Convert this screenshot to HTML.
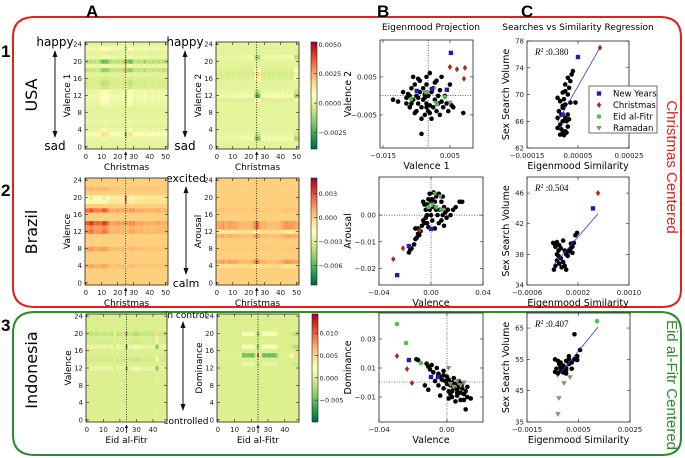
<!DOCTYPE html>
<html><head><meta charset="utf-8"><style>
html,body{margin:0;padding:0;background:#fff;}
svg{display:block;font-family:"DejaVu Sans","Liberation Sans",sans-serif;}
</style></head><body>
<svg id="fig" width="685" height="458" viewBox="0 0 685 458" xmlns="http://www.w3.org/2000/svg">
<defs>
<linearGradient id="cmap" x1="0" y1="1" x2="0" y2="0">
<stop offset="0" stop-color="#006837"/><stop offset="0.1" stop-color="#1a9850"/><stop offset="0.2" stop-color="#66bd63"/><stop offset="0.3" stop-color="#a6d96a"/><stop offset="0.4" stop-color="#d9ef8b"/><stop offset="0.5" stop-color="#ffffbf"/><stop offset="0.6" stop-color="#fee08b"/><stop offset="0.7" stop-color="#fdae61"/><stop offset="0.8" stop-color="#f46d43"/><stop offset="0.9" stop-color="#d73027"/><stop offset="1" stop-color="#a50026"/>
</linearGradient>
</defs>
<path d="M13,37 Q13,17 35,17 L660,17 Q681,17 681,37 L681,290 Q681,307 662,307 L35,307 Q13,307 13,287 Z" fill="none" stroke="#e0201b" stroke-width="2"/>
<path d="M13,333 Q13,312 35,312 L660,312 Q681,312 681,332 L681,438 Q681,455 662,455 L35,455 Q13,455 13,435 Z" fill="none" stroke="#2e8b2e" stroke-width="2"/>
<g font-weight="bold" font-size="17" font-family="Liberation Sans, sans-serif">
<text x="86" y="17">A</text>
<text x="377" y="17">B</text>
<text x="521" y="17">C</text>
<text x="1" y="57">1</text>
<text x="1" y="196">2</text>
<text x="1" y="331">3</text>
</g>
<g font-size="16">
<text transform="translate(37,95) rotate(-90)" text-anchor="middle">USA</text>
<text transform="translate(37,232) rotate(-90)" text-anchor="middle">Brazil</text>
<text transform="translate(37,370) rotate(-90)" text-anchor="middle">Indonesia</text>
</g>
<g font-size="15" font-family="Liberation Sans, sans-serif">
<text transform="translate(667,167) rotate(90)" text-anchor="middle" fill="#e0201b">Christmas Centered</text>
<text transform="translate(667,385) rotate(90)" text-anchor="middle" fill="#2e8b2e">Eid al-Fitr Centered</text>
</g>
<g font-size="9" text-anchor="middle">
<text x="431" y="30">Eigenmood Projection</text>
<text x="578" y="30">Searches vs Similarity Regression</text>
</g>
<g id="g-arrows" font-size="12"></g>
<g id="g-plots"></g>
</svg>
<script>
// ---------- heatmap data (row profiles x column profiles) ----------
const h1Rows=[0,0,0.0002,0.0012,0.0003,0,0.0002,0,0,0,0.0003,0.0005,0.0006,0.0004,-0.0004,-0.0006,-0.0003,0,-0.0012,0.0003,-0.0016,0.0003,0,0.0006,0];
const h1Cols=[0.5,0.6,0.4,0.6,0.5,0.4,0.5,0.3,0.5,0.6,1.2,1.3,1.2,1.2,1.1,0.6,0.6,0.5,0.4,0.5,0.6,0.5,0.4,0.6,0.8,-2.5,0.8,1.2,1.3,1.1,0.5,0.4,0.5,0.6,0.5,0.4,0.6,0.9,0.5,0.4,0.5,0.4,0.6,0.5,0.4,0.5,0.6,0.4,0.5,0.6,0.5,0.5];
const h2Rows=[0,0,0.0008,0.0003,0,0,0,0,0,0,0,-0.0003,0.001,0.0003,0,0,-0.0004,-0.0008,-0.0004,0,0,0.0006,0,0,0];
const h2Cols=[0.3,0.2,0.3,0.4,0.3,0.2,0.3,0.4,0.3,0.3,0.4,0.3,0.2,0.4,0.3,0.5,0.3,0.4,0.3,0.4,0.5,0.3,0.4,0.6,-1.5,-2.5,-2.5,-1.5,0.5,0.4,0.6,0.3,0.4,0.6,0.3,0.4,0.6,0.3,0.4,0.5,0.3,0.6,0.4,0.3,0.5,0.3,0.4,0.5,0.3,-1.5,-1.5,-1.2];
const h3Rows=[0,0,0,0,0.0008,0,0,0,0.001,0,0,0,0.0015,0.0012,0.0025,0,0,0.002,0,-0.0015,-0.002,0,0.0005,0,0];
const h3Cols=[1.0,1.0,1.1,1.4,1.4,1.0,0.9,1.0,1.0,0.9,1.0,1.4,1.4,1.0,0.9,0.5,0.4,0.5,0.4,0.5,0.6,0.5,0.4,0.5,0.6,-2.0,0.6,0.5,0.8,0.5,0.8,0.4,0.5,0.4,0.4,0.5,0.35,0.3,0.35,0.4,0.35,0.3,0.4,0.35,0.4,0.35,0.5,0.35,0.3,0.4,0.35,0.3];
const h4Rows=[0,0,0,0,-0.0005,0.0012,0,0,0.0002,0,0,0.0008,-0.0008,0.0012,0.0012,0,0,0.0003,0,0,0,0,0,0,0];
const h4Cols=[0.8,0.8,1.0,0.8,1.2,0.8,0.7,0.8,1.2,0.8,0.7,1.0,0.8,0.7,0.5,0.4,0.5,0.4,0.5,0.5,0.4,0.5,0.6,0.8,1.5,2.5,1.5,0.8,0.6,0.5,0.8,0.5,0.4,0.5,0.4,0.3,0.4,0.3,0.4,0.5,0.6,0.8,1.0,1.2,1.2,1.1,1.0,1.2,1.0,0.9,0.8,0.8];
const h5Rows=[0,0,0.0005,0,0,0,0,0,0,0.0005,0,0,-0.003,0,0.002,0,0,-0.003,0.001,0.0005,0.004,0,0,0,0];
const h5Cols=[-0.3,-0.2,-0.3,-0.4,-0.2,-0.3,-0.4,-0.2,-0.3,-0.2,-0.3,-0.4,-0.2,-0.3,-0.2,-0.4,-0.3,0.2,-0.3,-0.4,-0.2,-0.3,-0.2,-0.4,2.5,-0.3,-0.2,-0.3,-0.3,-0.5,-0.5,-0.5,-0.3,-0.2,-0.3,-0.2,-0.3,-0.2,-0.3,-0.2,-0.3,-0.2,1.2,1.2,-0.3,-0.2,-0.3,-0.4,-0.3];
const h6Rows=[0,0,0,0,0,0,0,0,0,0,0,0,0,-0.0008,0,0.005,0,-0.002,0,0,-0.002,0,0,0,0];
const h6Cols=[0.1,0,0.1,0,0.1,0,0.1,0,0.1,0,0,0.1,0,0.1,0,-1,-1,-0.8,-1,-0.8,-1,-1,-0.6,0.2,2.5,0.2,-0.2,-1,-1,-0.8,-1,-1,-0.9,-1,-1,-0.8,-0.2,0,0.1,0,0.1,0,0.1,0.2,0.3,0.5,1,1,1];

// ---------- scatter data (Eigenmood projection, column B) ----------
const b1BlackX=[-0.012,-0.0105,-0.009,-0.008,-0.0075,-0.007,-0.0065,-0.006,-0.0055,-0.005,-0.005,-0.0045,-0.004,-0.004,-0.0035,-0.003,-0.003,-0.0025,-0.0025,-0.002,-0.002,-0.0015,-0.0015,-0.001,-0.001,-0.0005,-0.0005,0.0,0.0,0.0005,0.001,0.001,0.0015,0.002,0.002,0.0025,0.003,0.0035,0.004,0.0045,0.005,0.006,-0.0035,0.009,0.0055,-0.006,-0.0045,-0.002,-0.0055,-0.0035,-0.001,0.0015,-0.007,-0.008,-0.0025,0.0005,-0.0045,-0.002,-0.0065,0.0025];
const b1BlackY=[-0.001,-0.0015,0.001,-0.002,0.0005,-0.003,0.002,-0.001,0.003,-0.004,0.0,-0.002,0.004,0.001,-0.003,-0.001,0.002,-0.005,0.0005,-0.002,0.003,-0.004,0.0,0.006,-0.0025,0.001,-0.006,-0.003,0.002,-0.001,0.004,-0.004,-0.002,0.0015,-0.005,0.005,-0.003,0.0,-0.002,-0.004,0.003,-0.003,-0.010,-0.0045,-0.0025,0.005,0.0045,0.005,-0.0045,-0.006,-0.0045,0.0,0.0,-0.0005,-0.0005,0.0035,-0.0005,-0.003,-0.002,-0.0015];
const b1NyX=[0.0053,-0.0049,-0.0004,0.0041], b1NyY=[0.0113,0.0013,0.0018,0.0016];
const b1XmX=[0.005,0.0071,0.0095,0.0092], b1XmY=[0.0076,0.007,0.0074,0.0045];
const b1EidX=[-0.0066,-0.0019,0.0035,0.0011], b1EidY=[-0.0008,0.001,-0.0003,-0.0022];
const b1RamX=[-0.0025,0.0002,0.005,0.0008], b1RamY=[0.001,0.0018,-0.0018,-0.0018];

const b2BlackX=[-0.017,-0.016,-0.015,-0.013,-0.012,-0.011,-0.010,-0.009,-0.008,-0.012,-0.010,-0.007,-0.006,-0.005,-0.004,-0.004,-0.003,-0.002,-0.001,0.0,0.001,0.002,0.003,0.004,0.005,0.006,0.007,0.008,0.009,0.010,0.011,0.012,0.013,0.015,0.017,0.019,0.022,0.024,-0.003,-0.002,0.001,0.006,0.009,0.003,0.008,-0.006,-0.003,0.004,0.010,-0.001,0.002,0.0,-0.005];
const b2BlackY=[-0.014,-0.013,-0.0125,-0.011,-0.009,-0.0085,-0.007,-0.0075,-0.006,-0.005,-0.005,-0.004,-0.002,-0.003,-0.001,0.002,0.004,0.006,0.008,0.0,-0.002,0.003,0.005,0.007,0.0,-0.003,0.002,0.005,0.0,0.003,0.001,-0.001,0.002,0.0,0.002,0.003,0.005,0.005,-0.003,-0.0045,0.006,0.008,0.007,-0.005,-0.002,0.005,0.0,0.002,-0.004,0.002,0.0085,0.005,0.004];
const b2NyX=[-0.026,-0.017,0.0], b2NyY=[-0.0225,-0.0116,-0.0052];
const b2XmX=[-0.029,-0.0215,-0.0085], b2XmY=[-0.0165,-0.0124,-0.0056];
const b2EidX=[0.004,0.008,-0.002], b2EidY=[0.003,0.002,0.003];
const b2RamX=[0.003,0.007,0.001,0.009], b2RamY=[0.008,0.007,0.004,0.002];

const b3BlackX=[-0.018,-0.017,-0.012,-0.011,-0.009,-0.010,-0.008,-0.006,-0.005,-0.004,-0.003,-0.002,-0.001,0.0,0.001,0.002,0.003,0.004,0.005,0.006,0.007,0.008,0.009,0.010,0.011,0.012,0.014,0.008,0.006,0.011,-0.004,-0.011,-0.013,-0.005,0.001,0.003,0.005,0.002,-0.002,0.0,0.004,0.007,0.009,0.012,-0.007,0.001,0.010,-0.002,0.003,0.006];
const b3BlackY=[0.016,0.0155,0.013,0.011,0.012,0.009,0.007,0.010,0.006,0.004,0.002,0.005,0.001,-0.001,0.002,-0.002,0.0,-0.004,-0.001,-0.005,-0.003,-0.007,-0.004,-0.008,-0.006,-0.010,-0.011,-0.012,-0.009,-0.0185,-0.009,-0.005,-0.002,-0.002,-0.006,-0.010,-0.013,-0.008,-0.004,0.004,0.003,0.001,-0.001,-0.003,0.001,-0.011,-0.012,0.008,-0.006,-0.007];
const b3NyX=[-0.0224,-0.0094,-0.0053], b3NyY=[0.0155,0.0038,0.0038];
const b3XmX=[-0.0294,-0.0235,-0.0206], b3XmY=[0.0183,0.0093,-0.0003];
const b3EidX=[-0.0294,-0.0241,-0.0153], b3EidY=[0.0403,0.0272,0.0134];
const b3RamX=[0.001,0.006,0.008,0.004,0.010,0.002], b3RamY=[0.010,0.001,-0.002,-0.003,0.0,-0.001];

// ---------- regression data (column C) ----------
const c1BlackX=[-0.00002,-0.00001,0,0.000005,-0.00003,-0.00002,-0.00001,-0.00003,0,-0.000015,0.00001,-0.000025,-0.00001,0,0.00002,-0.00002,-0.000005,-0.00003,0.00001,0,-0.00001,0.000015,0,0.00002,0.00001,0.000025,0.00003,-0.00001,0.000005,0.000015,0.00004,-0.000015,-0.000005,0.00001];
const c1BlackY=[64,64.2,64.5,64.3,65,65.5,66,66.5,66.5,67,67,67.5,68,68.5,68.8,69,69.3,69.5,70,70.5,70.3,71,71.5,72,72.5,73,73.5,68.3,66,66.3,68.8,64.8,63.9,65.2];
const c1NyX=[0.00005,-0.00001], c1NyY=[75.6,67];
const c1XmX=[0.000136], c1XmY=[77];
const c1Fit=[-0.00003,65.9,0.000136,77];
const c1R2=["0.380"];

const c2BlackX=[-0.00019,-0.000166,-0.00013,-0.000154,-0.000106,-0.000033,-0.000009,0.000015,0.000039,0.000064,0.000088,0.000112,0.000136,0.00016,0.000185,0.000112,0.000052,-0.00007,-0.00013,-0.000094,-0.000154,-0.000057,-0.000009,0.000015,-0.000178,-0.000106,-0.000033,0.000088,-0.00007,-0.00013,-0.000094];
const c2BlackY=[39.5,39.3,39.6,39,38.5,39.8,38.5,38,37.8,38.4,38.8,39,39.5,40.5,40.8,38.2,38.5,37.5,37.2,36.8,36.5,36.3,36.5,36.0,36.0,37.8,37,39.4,38.8,38.0,39.2];
const c2NyX=[0.000435], c2NyY=[44.0];
const c2XmX=[0.000514], c2XmY=[46];
const c2Fit=[-0.000192,36.5,0.000514,43.3];
const c2R2=["0.504"];

const c3BlackX=[-0.00041,-0.0003,-0.000195,-0.000087,0.00002,-0.000357,-0.000195,-0.000087,0.00002,0.000128,0.000236,0.000344,0.000451,0.000559,0.000344,-0.00041,-0.0003,-0.000195,0.00002,0.000128,0.000236,-0.000087,-0.000249,0.000128,0.000451,0.00002];
const c3BlackY=[51,50.5,51.2,50.8,51.5,52,52.5,53,52.2,53.5,54,55,56,58,63,55,54.5,54,54.5,55,52,51.8,53.5,56,54.8,50.5];
const c3EidX=[0.00122], c3EidY=[67.2];
const c3RamX=[0.00017,-0.000064,-0.00026,-0.0003], c3RamY=[49.3,47.4,42.6,37.5];
const c3Fit=[-0.000336,49.3,0.00126,65.3];
const c3R2=["0.407"];

// ---------- drawing ----------
const NS="http://www.w3.org/2000/svg";
const plots=document.getElementById('g-plots');
function el(tag,attrs,parent){const e=document.createElementNS(NS,tag);for(const k in attrs)e.setAttribute(k,attrs[k]);(parent||plots).appendChild(e);return e;}
function txt(s,attrs,parent){const e=el('text',attrs,parent);e.textContent=s;return e;}
function lin(d0,d1,r0,r1){return v=>r0+(v-d0)/(d1-d0)*(r1-r0);}
const STOPS=[[0,[0,104,55]],[0.1,[26,152,80]],[0.2,[102,189,99]],[0.3,[166,217,106]],[0.4,[217,239,139]],[0.5,[255,255,191]],[0.6,[254,224,139]],[0.7,[253,174,97]],[0.8,[244,109,67]],[0.9,[215,48,39]],[1,[165,0,38]]];
function cmap(t){t=Math.max(0,Math.min(1,t));for(let i=1;i<STOPS.length;i++){if(t<=STOPS[i][0]){const a=STOPS[i-1],b=STOPS[i];const f=(t-a[0])/(b[0]-a[0]);const c=a[1].map((v,k)=>Math.round(v+(b[1][k]-v)*f));return 'rgb('+c.join(',')+')';}}return 'rgb(165,0,38)';}
const tickFont={'font-size':'7','fill':'#222'};

function frame(x0,y0,x1,y1,name){
  const r=el('rect',{x:x0,y:y0,width:x1-x0,height:y1-y0,fill:'none',stroke:'#222','stroke-width':'0.8'});
  
  
}
function xticks(vals,labels,sx,y0,y1,prefix){
  vals.forEach((v,i)=>{
    const x=sx(v);
    el('line',{x1:x,x2:x,y1:y1,y2:y1-3,stroke:'#222','stroke-width':'0.6'});
    el('line',{x1:x,x2:x,y1:y0,y2:y0+3,stroke:'#222','stroke-width':'0.6'});
    const t=txt(labels[i],Object.assign({x:x,y:y1+10,'text-anchor':'middle'},tickFont));
    
    
  });
}
function yticks(vals,labels,sy,x0,x1,prefix){
  vals.forEach((v,i)=>{
    const y=sy(v);
    el('line',{x1:x0,x2:x0+3,y1:y,y2:y,stroke:'#222','stroke-width':'0.6'});
    el('line',{x1:x1,x2:x1-3,y1:y,y2:y,stroke:'#222','stroke-width':'0.6'});
    const t=txt(labels[i],Object.assign({x:x0-3,y:y+2.5,'text-anchor':'end'},tickFont));
    
    
  });
}
function label(s,x,y,rot,name,size){
  const t=txt(s,{x:0,y:0,'text-anchor':'middle','font-size':size||'9',transform:'translate('+x+','+y+')'+(rot?' rotate(-90)':'')});
  
  
}

function heatmap(cfg){
  const {x0,x1,y0,y1,rows,cols,vmin,vmax,mark,name}=cfg;
  const N=cols.length;
  const sx=lin(-0.5,N-0.5,x0,x1), sy=lin(-0.5,24.5,y1,y0);
  const g=el('g',{});
  
  
  for(let r=0;r<rows.length;r++){for(let c=0;c<N;c++){
    const v=rows[r]*cols[c];
    const xa=sx(c-0.5),xb=sx(c+0.5),ya=sy(r+0.5),yb=sy(r-0.5);
    const cell=el('rect',{x:xa.toFixed(2),y:ya.toFixed(2),width:(xb-xa+0.3).toFixed(2),height:(yb-ya+0.3).toFixed(2),fill:cmap((v-vmin)/(vmax-vmin))},g);
    
    
  }}
  const dl=el('line',{x1:sx(mark),x2:sx(mark),y1:y0,y2:y1,stroke:'#111','stroke-width':'0.8','stroke-dasharray':'1,1.5'});
  
  
  el('line',{x1:sx(mark),x2:sx(mark),y1:y1+11,y2:y1+3,stroke:'#111','stroke-width':'0.8'});
  el('path',{d:'M'+(sx(mark)-1.6)+','+(y1+6)+' L'+sx(mark)+','+(y1+2.5)+' L'+(sx(mark)+1.6)+','+(y1+6)+' Z',fill:'#111'});
  frame(x0,y0,x1,y1,name+'-frame');
  const xt=cfg.xt;
  xticks(xt,xt.map(String),sx,y0,y1,name);
  const yt=[0,4,8,12,16,20,24];
  yticks(yt,yt.map(String),sy,x0,x1,name);
  label(cfg.xlabel,(x0+x1)/2,y1+21,false,name+'-xlabel');
  label(cfg.ylabel,x0-15,(y0+y1)/2,true,name+'-ylabel');
}
function colorbar(cfg){
  const {x,y0,y1,vmin,vmax,ticks,labels,name}=cfg;
  const r=el('rect',{x:x,y:y0,width:6,height:y1-y0,fill:'url(#cmap)',stroke:'#222','stroke-width':'0.6'});
  
  
  const sy=lin(vmin,vmax,y1,y0);
  ticks.forEach((v,i)=>{
    const y=sy(v);
    el('line',{x1:x+6,x2:x+3,y1:y,y2:y,stroke:'#222','stroke-width':'0.6'});
    const t=txt(labels[i],{x:x+7.5,y:y+2.5,'font-size':'6.5','fill':'#222'});
    
    
  });
}
function marker(kind,x,y,parent){
  let e;
  if(kind==='black'){e=el('circle',{cx:x,cy:y,r:2.3,fill:'#000'},parent);}
  else if(kind==='ny'){e=el('rect',{x:x-2.2,y:y-2.2,width:4.4,height:4.4,fill:'#1f1fa8'},parent);}
  else if(kind==='xm'){e=el('path',{d:'M'+x+','+(y-3)+' L'+(x+2.2)+','+y+' L'+x+','+(y+3)+' L'+(x-2.2)+','+y+' Z',fill:'#b02424'},parent);}
  else if(kind==='eid'){e=el('circle',{cx:x,cy:y,r:2.3,fill:'#4cbf4c'},parent);}
  else {e=el('path',{d:'M'+(x-2.8)+','+(y-2)+' L'+(x+2.8)+','+(y-2)+' L'+x+','+(y+2.8)+' Z',fill:'#7f9a6a'},parent);}
  
  
}
function scatter(cfg){
  const {x0,x1,y0,y1,xd,yd,name}=cfg;
  const sx=lin(xd[0],xd[1],x0,x1), sy=lin(yd[0],yd[1],y1,y0);
  el('rect',{x:x0,y:y0,width:x1-x0,height:y1-y0,fill:'#fff'});
  if(cfg.cross){
    const a=el('line',{x1:sx(cfg.cross[0]),x2:sx(cfg.cross[0]),y1:y0,y2:y1,stroke:'#333','stroke-width':'0.7','stroke-dasharray':'1,1.5'});
    
    
    const b=el('line',{x1:x0,x2:x1,y1:sy(cfg.cross[1]),y2:sy(cfg.cross[1]),stroke:'#333','stroke-width':'0.7','stroke-dasharray':'1,1.5'});
    
    
  }
  const g=el('g',{});
  
  
  cfg.series.forEach(s=>{s.x.forEach((v,i)=>marker(s.kind,sx(v),sy(s.y[i]),g));});
  if(cfg.fit){
    const f=cfg.fit;
    const fl=el('line',{x1:sx(f[0]),y1:sy(f[1]),x2:sx(f[2]),y2:sy(f[3]),stroke:'#3333dd','stroke-width':'0.8'});
    
    
  }
  frame(x0,y0,x1,y1,name+'-frame');
  xticks(cfg.xt,cfg.xl,sx,y0,y1,name);
  yticks(cfg.yt,cfg.yl,sy,x0,x1,name);
  label(cfg.xlabel,(x0+x1)/2,y1+21,false,name+'-xlabel','9.5');
  label(cfg.ylabel,cfg.ylx,(y0+y1)/2,true,name+'-ylabel','9.5');
  if(cfg.r2){
    const t=txt('',{x:x0+8,y:y0+14,'font-size':'9','font-family':'Liberation Serif, serif'});
    t.innerHTML='<tspan font-style="italic">R</tspan><tspan dy="-3" font-size="6">2</tspan><tspan dy="3"> :'+cfg.r2[0]+'</tspan>';
    
    
  }
}

// Row 1 (USA)
heatmap({name:'usa-valence1-heatmap',x0:85,x1:168,y0:42,y1:149,rows:h1Rows,cols:h1Cols,vmin:-0.0039,vmax:0.0052,mark:25,xt:[0,10,20,30,40,50],xlabel:'Christmas',ylabel:'Valence 1'});
heatmap({name:'usa-valence2-heatmap',x0:216,x1:299,y0:42,y1:149,rows:h2Rows,cols:h2Cols,vmin:-0.0039,vmax:0.0052,mark:25,xt:[0,10,20,30,40,50],xlabel:'Christmas',ylabel:'Valence 2'});
colorbar({name:'usa-colorbar',x:311,y0:42,y1:149,vmin:-0.0039,vmax:0.0052,ticks:[0.005,0.0025,0,-0.0025],labels:['0.0050','0.0025','0.0000','\u22120.0025']});
// Row 2 (Brazil)
heatmap({name:'brazil-valence-heatmap',x0:85,x1:168,y0:178,y1:285,rows:h3Rows,cols:h3Cols,vmin:-0.0084,vmax:0.0049,mark:25,xt:[0,10,20,30,40,50],xlabel:'Christmas',ylabel:'Valence'});
heatmap({name:'brazil-arousal-heatmap',x0:216,x1:299,y0:178,y1:285,rows:h4Rows,cols:h4Cols,vmin:-0.0084,vmax:0.0049,mark:25,xt:[0,10,20,30,40,50],xlabel:'Christmas',ylabel:'Arousal'});
colorbar({name:'brazil-colorbar',x:311,y0:178,y1:285,vmin:-0.0084,vmax:0.0049,ticks:[0.003,0,-0.003,-0.006],labels:['0.003','0.000','\u22120.003','\u22120.006']});
// Row 3 (Indonesia)
heatmap({name:'indonesia-valence-heatmap',x0:86,x1:167,y0:314,y1:422,rows:h5Rows,cols:h5Cols,vmin:-0.0099,vmax:0.0143,mark:24,xt:[0,10,20,30,40],xlabel:'Eid al-Fitr',ylabel:'Valence'});
heatmap({name:'indonesia-dominance-heatmap',x0:217,x1:299,y0:314,y1:422,rows:h6Rows,cols:h6Cols,vmin:-0.0099,vmax:0.0143,mark:24,xt:[0,10,20,30,40],xlabel:'Eid al-Fitr',ylabel:'Dominance'});
colorbar({name:'indonesia-colorbar',x:312,y0:314,y1:422,vmin:-0.0099,vmax:0.0143,ticks:[0.01,0.005,0,-0.005],labels:['0.010','0.005','0.000','\u22120.005']});

// Column B
scatter({name:'usa-projection',x0:380,x1:473,y0:40,y1:148,xd:[-0.0159,0.0119],yd:[-0.0137,0.0147],cross:[-0.0015,0.0001],
  series:[{kind:'black',x:b1BlackX,y:b1BlackY},{kind:'eid',x:b1EidX,y:b1EidY},{kind:'ram',x:b1RamX,y:b1RamY},{kind:'ny',x:b1NyX,y:b1NyY},{kind:'xm',x:b1XmX,y:b1XmY}],
  xt:[-0.015,0.005],xl:['\u22120.015','0.005'],yt:[0.005,-0.005],yl:['0.005','\u22120.005'],xlabel:'Valence 1',ylabel:'Valence 2',ylx:351});
scatter({name:'brazil-projection',x0:379,x1:483,y0:177,y1:285,xd:[-0.04,0.04],yd:[-0.0262,0.0143],cross:[0,0],
  series:[{kind:'black',x:b2BlackX,y:b2BlackY},{kind:'eid',x:b2EidX,y:b2EidY},{kind:'ram',x:b2RamX,y:b2RamY},{kind:'ny',x:b2NyX,y:b2NyY},{kind:'xm',x:b2XmX,y:b2XmY}],
  xt:[-0.04,0,0.04],xl:['\u22120.04','0.00','0.04'],yt:[0,-0.01,-0.02],yl:['0.00','\u22120.01','\u22120.02'],xlabel:'Valence',ylabel:'Arousal',ylx:351});
scatter({name:'indonesia-projection',x0:379,x1:483,y0:313,y1:422,xd:[-0.04,0.0212],yd:[-0.0272,0.0479],cross:[0,0.0003],
  series:[{kind:'black',x:b3BlackX,y:b3BlackY},{kind:'ram',x:b3RamX,y:b3RamY},{kind:'eid',x:b3EidX,y:b3EidY},{kind:'ny',x:b3NyX,y:b3NyY},{kind:'xm',x:b3XmX,y:b3XmY}],
  xt:[-0.04,0],xl:['\u22120.04','0.00'],yt:[0.03,0.01,-0.01],yl:['0.03','0.01','\u22120.01'],xlabel:'Valence',ylabel:'Dominance',ylx:351});

// Column C
scatter({name:'usa-regression',x0:527,x1:629,y0:41,y1:148,xd:[-0.00015,0.00025],yd:[62,78],
  series:[{kind:'black',x:c1BlackX,y:c1BlackY},{kind:'ny',x:c1NyX,y:c1NyY},{kind:'xm',x:c1XmX,y:c1XmY}],fit:c1Fit,r2:c1R2,
  xt:[-0.00015,0.00005,0.00025],xl:['\u22120.00015','0.00005','0.00025'],yt:[62,66,70,74,78],yl:['62','66','70','74','78'],xlabel:'Eigenmood Similarity',ylabel:'Sex Search Volume',ylx:509});
scatter({name:'brazil-regression',x0:527,x1:629,y0:177,y1:285,xd:[-0.0006,0.001],yd:[34,48.1],
  series:[{kind:'black',x:c2BlackX,y:c2BlackY},{kind:'ny',x:c2NyX,y:c2NyY},{kind:'xm',x:c2XmX,y:c2XmY}],fit:c2Fit,r2:c2R2,
  xt:[-0.0006,0.0002,0.001],xl:['\u22120.0006','0.0002','0.0010'],yt:[34,38,42,46],yl:['34','38','42','46'],xlabel:'Eigenmood Similarity',ylabel:'Sex Search Volume',ylx:509});
scatter({name:'indonesia-regression',x0:527,x1:630,y0:313,y1:422,xd:[-0.0015,0.0025],yd:[35,69.8],
  series:[{kind:'black',x:c3BlackX,y:c3BlackY},{kind:'eid',x:c3EidX,y:c3EidY},{kind:'ram',x:c3RamX,y:c3RamY}],fit:c3Fit,r2:c3R2,
  xt:[-0.0015,0.0005,0.0025],xl:['\u22120.0015','0.0005','0.0025'],yt:[35,45,55,65],yl:['35','45','55','65'],xlabel:'Eigenmood Similarity',ylabel:'Sex Search Volume',ylx:509});

// Legend
const lg=el('g',{});


el('rect',{x:589,y:86,width:68,height:47,fill:'#fff',stroke:'#333','stroke-width':'0.7'},lg);
const legKinds=['ny','xm','eid','ram'];
const legNames=['New Years','Christmas','Eid al-Fitr','Ramadan'];
legKinds.forEach((k,i)=>{
  const y=93.5+i*11.5;
  marker(k,599,y,lg);
  const t=txt(legNames[i],{x:613,y:y+3,'font-size':'8.5'},lg);
  
  
});

// Mood direction arrows
const ag=document.getElementById('g-arrows');
function moodArrow(x,yTop,yBot,top,bot,name,fs){
  const g=el('g',{},ag);
  
  
  txt(top,{x:x,y:yTop,'text-anchor':'middle','font-size':fs},g);
  txt(bot,{x:x,y:yBot,'text-anchor':'middle','font-size':fs},g);
  el('line',{x1:x,x2:x,y1:yTop+5,y2:yBot-13,stroke:'#111','stroke-width':'1'},g);
  el('path',{d:'M'+(x-2.5)+','+(yTop+11)+' L'+x+','+(yTop+4)+' L'+(x+2.5)+','+(yTop+11)+' Z',fill:'#111'},g);
  el('path',{d:'M'+(x-2.5)+','+(yBot-19)+' L'+x+','+(yBot-12)+' L'+(x+2.5)+','+(yBot-19)+' Z',fill:'#111'},g);
}
moodArrow(55,46,150,'happy','sad','usa-valence1-arrow','12');
moodArrow(185,46,150,'happy','sad','usa-valence2-arrow','12');
moodArrow(186,182,287,'excited','calm','brazil-arousal-arrow','11');
const ic=txt('in control',{x:186,y:318,'text-anchor':'middle','font-size':'9'},ag);


const ct=txt('controlled',{x:186,y:424,'text-anchor':'middle','font-size':'9'},ag);


el('line',{x1:183,x2:183,y1:322,y2:409,stroke:'#111','stroke-width':'1'},ag);
el('path',{d:'M180.5,328 L183,321 L185.5,328 Z',fill:'#111'},ag);
el('path',{d:'M180.5,404 L183,411 L185.5,404 Z',fill:'#111'},ag);
</script>
</body></html>
